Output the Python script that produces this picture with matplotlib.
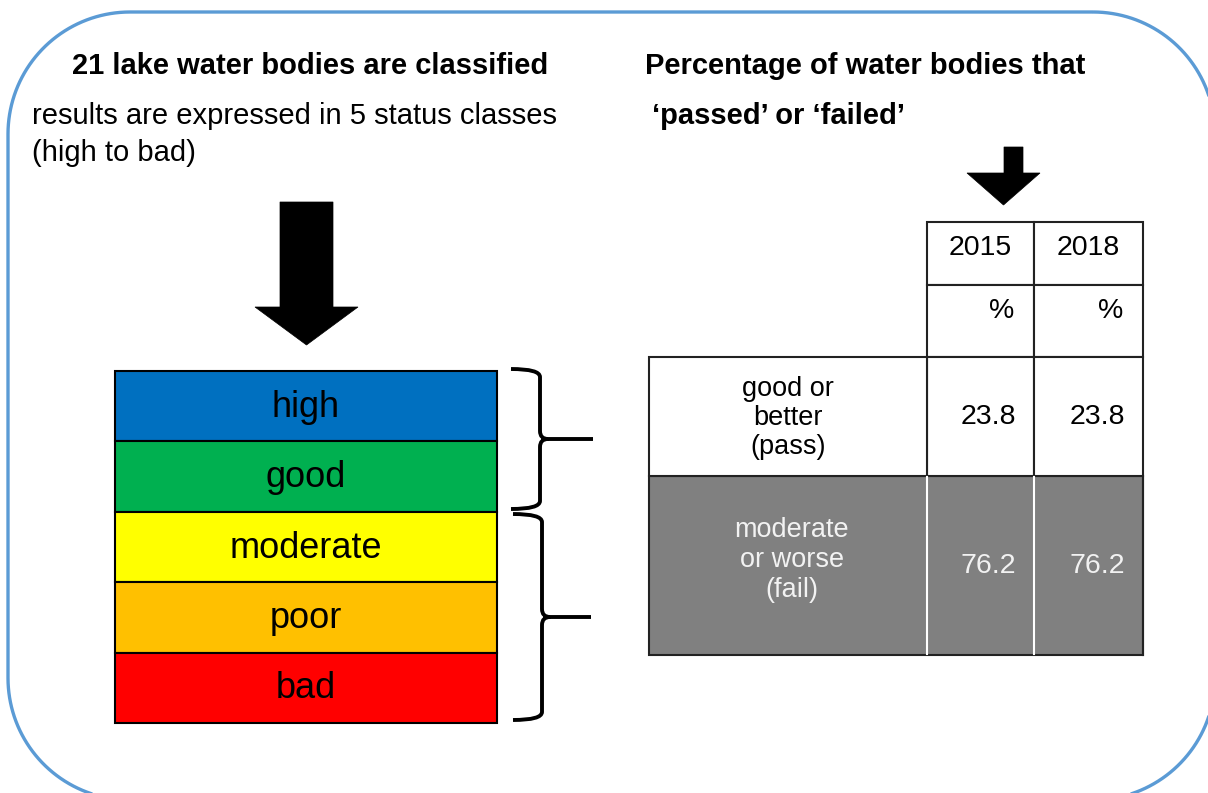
import numpy as np
import matplotlib
matplotlib.use("Agg")
import matplotlib.pyplot as plt
from matplotlib.patches import Polygon, Rectangle, PathPatch
from matplotlib.path import Path

plt.rcParams['font.family'] = ['Liberation Sans', 'DejaVu Sans']

# data
n_lakes = 21
status_classes = ["high", "good", "moderate", "poor", "bad"]
status_colors = ["#0070C0", "#00B050", "#FFFF00", "#FFC000", "#FF0000"]
years = ["2015", "2018"]
pass_pct = [23.8, 23.8]
fail_pct = [76.2, 76.2]
row_labels = ["good or\nbetter\n(pass)", "moderate\nor worse\n(fail)"]

W, H = 1208, 793
fig = plt.figure(figsize=(W / 100, H / 100), dpi=100)
ax = fig.add_axes([0, 0, 1, 1])
ax.set_xlim(0, W)
ax.set_ylim(H, 0)
ax.axis("off")


# rounded frame (built by hand, y axis points down)
def rounded_rect(x0, y0, x1, y1, r, n=40):
    pts = []
    corners = [((x1 - r, y0 + r), -90, 0), ((x1 - r, y1 - r), 0, 90),
               ((x0 + r, y1 - r), 90, 180), ((x0 + r, y0 + r), 180, 270)]
    for (cx, cy), a0, a1 in corners:
        t = np.radians(np.linspace(a0, a1, n))
        pts.extend(zip(cx + r * np.cos(t), cy + r * np.sin(t)))
    return np.array(pts)


ax.add_patch(Polygon(rounded_rect(8, 12, 1215, 800, 122), closed=True, fc="none",
                     ec="#5B9BD5", lw=2.4, clip_on=False, joinstyle="round"))

# headings
ax.text(72, 66, f"{n_lakes} lake water bodies are classified", fontsize=21,
        fontweight="bold", va="center", ha="left")
ax.text(32, 116, "results are expressed in 5 status classes", fontsize=21, va="center")
ax.text(32, 153, "(high to bad)", fontsize=21, va="center")
ax.text(645, 66, "Percentage of water bodies that", fontsize=21,
        fontweight="bold", va="center")
ax.text(652, 116, "\u2018passed\u2019 or \u2018failed\u2019", fontsize=21,
        fontweight="bold", va="center")


def down_arrow(xl, xr, top, neck, hl, hr, tip):
    xm = (hl + hr) / 2
    pts = [(xl, top), (xr, top), (xr, neck), (hr, neck), (xm, tip), (hl, neck), (xl, neck)]
    ax.add_patch(Polygon(pts, closed=True, fc="black", ec="black", lw=0.5))


down_arrow(280, 333, 202, 307, 255, 358, 345)
down_arrow(1004, 1023, 147, 173, 967, 1040, 205)

# status boxes
box_left, box_right = 115, 497
box_top, box_bot = 371, 723
row_h = (box_bot - box_top) / len(status_classes)
centers = box_top + row_h * (np.arange(len(status_classes)) + 0.5)
ax.barh(centers, box_right - box_left, left=box_left, height=row_h,
        color=status_colors, edgecolor="black", linewidth=1.5)
for c, lab in zip(centers, status_classes):
    ax.text((box_left + box_right) / 2, c + 1, lab, fontsize=26, ha="center", va="center")


# braces
def brace(x_tip, x_spine, y0, y1, ym, x_end):
    verts = [(x_tip, y0), (x_spine, y0), (x_spine, y0 + 8),
             (x_spine, ym - 8), (x_spine, ym), (x_spine + 8, ym),
             (x_end, ym), (x_spine + 8, ym), (x_spine, ym), (x_spine, ym + 8),
             (x_spine, y1 - 8), (x_spine, y1), (x_tip, y1)]
    codes = [Path.MOVETO, Path.CURVE3, Path.CURVE3,
             Path.LINETO, Path.CURVE3, Path.CURVE3,
             Path.LINETO, Path.MOVETO, Path.CURVE3, Path.CURVE3,
             Path.LINETO, Path.CURVE3, Path.CURVE3]
    ax.add_patch(PathPatch(Path(verts, codes), fc="none", ec="black", lw=2.8,
                           capstyle="butt", joinstyle="round"))


brace(511, 540, 369, 509, 439, 593)
brace(513, 542, 514, 720, 617, 591)

# table
tx0, tx1, tx2, tx3 = 649, 927, 1034, 1143
ty0, ty1, ty2, ty3, ty4 = 222, 285, 357, 476, 655
col_x = [(tx1, tx2), (tx2, tx3)]
line_c = "#222222"

# fail row background
ax.add_patch(Rectangle((tx0, ty3), tx3 - tx0, ty4 - ty3, fc="#808080", ec=line_c, lw=1.5))
for xa, xb in col_x:
    ax.add_patch(Rectangle((xa, ty0), xb - xa, ty1 - ty0, fc="white", ec=line_c, lw=1.5))
    ax.add_patch(Rectangle((xa, ty1), xb - xa, ty2 - ty1, fc="white", ec=line_c, lw=1.5))
    ax.add_patch(Rectangle((xa, ty2), xb - xa, ty3 - ty2, fc="white", ec=line_c, lw=1.5))
ax.add_patch(Rectangle((tx0, ty2), tx1 - tx0, ty3 - ty2, fc="white", ec=line_c, lw=1.5))
# white separators inside grey row
for xs in (tx1, tx2):
    ax.plot([xs, xs], [ty3 + 1, ty4 - 1], color="white", lw=1.5)
ax.plot([tx3, tx3], [ty3, ty4], color=line_c, lw=1.5)

for (xa, xb), yr, p, f in zip(col_x, years, pass_pct, fail_pct):
    ax.text((xa + xb) / 2, 248, yr, fontsize=20.5, ha="center", va="center")
    ax.text(xb - 20, 311, "%", fontsize=20.5, ha="right", va="center")
    ax.text(xb - 18, 417, f"{p:.1f}", fontsize=20.5, ha="right", va="center")
    ax.text(xb - 18, 566, f"{f:.1f}", fontsize=20.5, ha="right", va="center",
            color="#f2f2f2")

ax.text((tx0 + tx1) / 2, 418, row_labels[0], fontsize=19.5, ha="center", va="center",
        linespacing=1.17)
ax.text((tx0 + tx1) / 2 + 4, 560, row_labels[1], fontsize=19.5, ha="center", va="center",
        linespacing=1.2, color="#f2f2f2")

fig.savefig("out.png", dpi=100)
